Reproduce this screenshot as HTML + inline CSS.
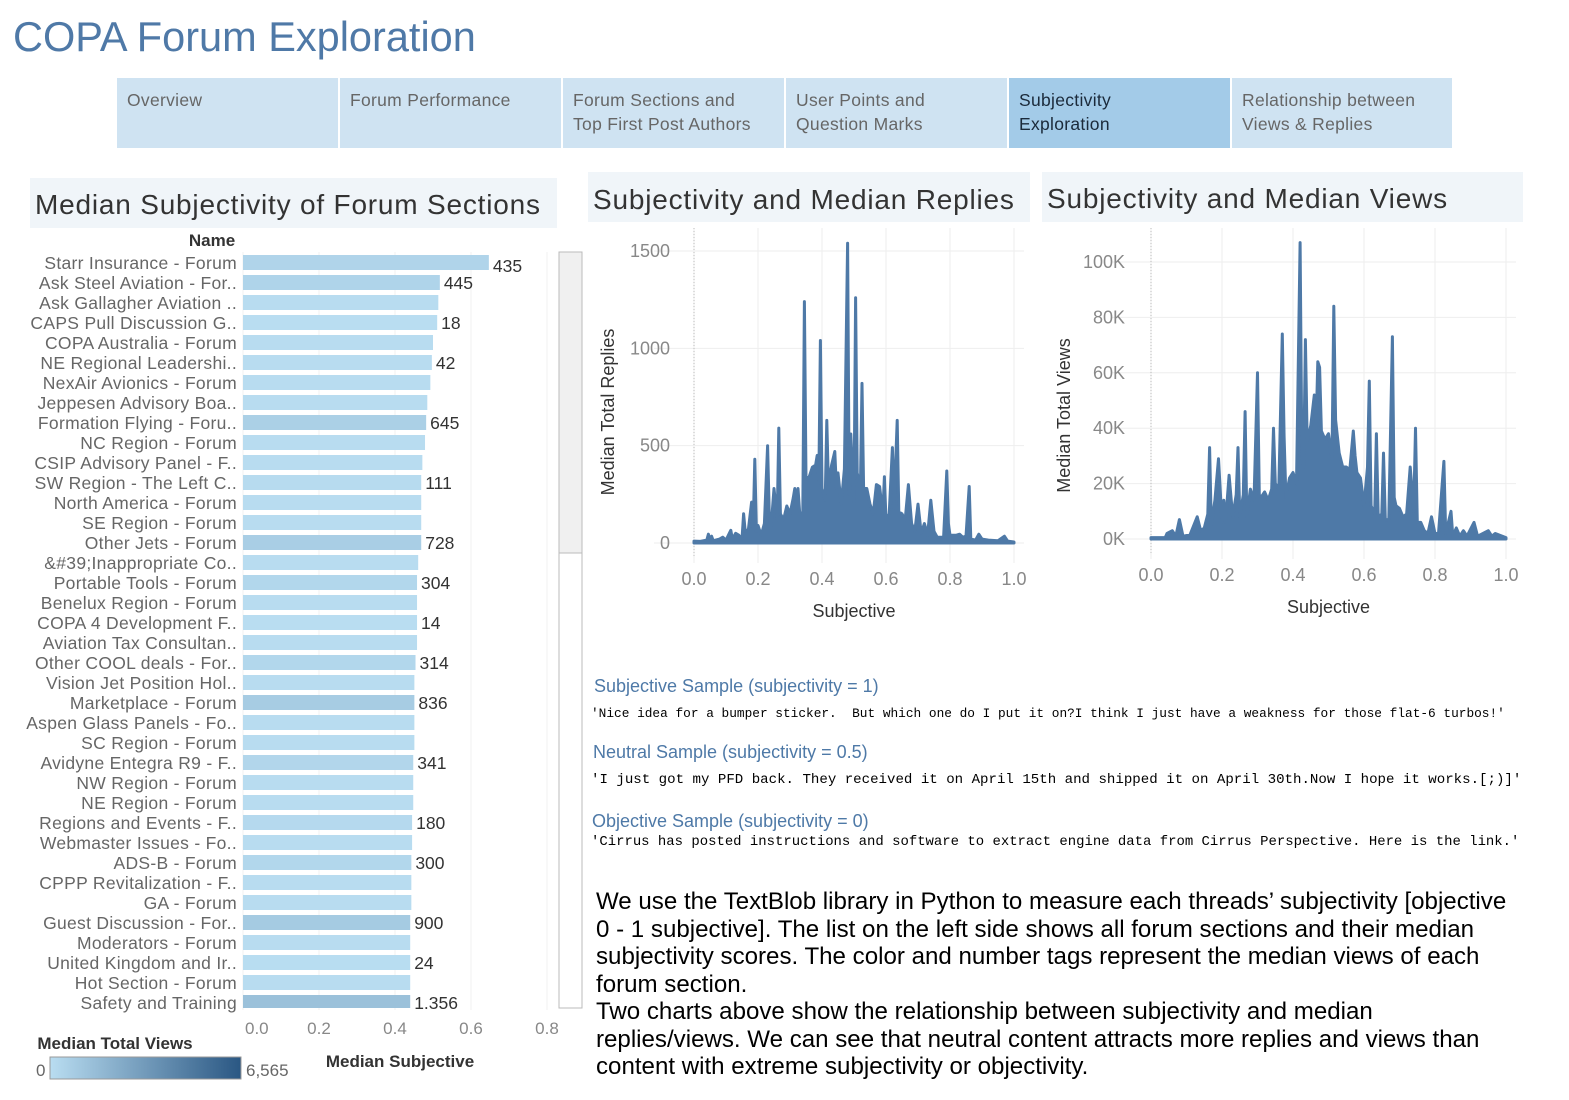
<!DOCTYPE html>
<html><head><meta charset="utf-8"><style>
body{margin:0;background:#fff;width:1569px;height:1100px;overflow:hidden;font-family:"Liberation Sans",sans-serif;position:relative}
.tab{position:absolute;top:78px;height:70px;width:221px;background:#cfe3f2;color:#666;font-size:17.5px;line-height:24px;padding:10px 10px;box-sizing:border-box;letter-spacing:0.3px}
.tab.active{background:#a3cbe8;color:#1b2a3a}
.hdr{position:absolute;background:#f0f5f9;color:#333;font-size:28px;box-sizing:border-box;padding-left:5px;letter-spacing:0.8px;white-space:nowrap}
.samp{position:absolute;color:#4e79a7;font-size:18px}
.mono{position:absolute;font-family:"Liberation Mono",monospace;font-size:13px;color:#000;white-space:pre}
.para{position:absolute;left:596px;top:888px;width:925px;font-size:24.1px;line-height:27.5px;color:#000}
</style></head><body>
<div style="position:absolute;left:13px;top:13px;font-size:41.5px;color:#4f79a7">COPA Forum Exploration</div>
<div class="tab" style="left:117px">Overview</div>
<div class="tab" style="left:340px">Forum Performance</div>
<div class="tab" style="left:563px">Forum Sections and<br>Top First Post Authors</div>
<div class="tab" style="left:786px">User Points and<br>Question Marks</div>
<div class="tab active" style="left:1009px">Subjectivity<br>Exploration</div>
<div class="tab" style="left:1232px;width:220px">Relationship between<br>Views &amp; Replies</div>

<div class="hdr" style="left:30px;top:178px;width:527px;height:50px;line-height:54px">Median Subjectivity of Forum Sections</div>
<div class="hdr" style="left:588px;top:172px;width:442px;height:50px;line-height:56px">Subjectivity and Median Replies</div>
<div class="hdr" style="left:1042px;top:172px;width:481px;height:50px;line-height:54px">Subjectivity and Median Views</div>

<div class="samp" style="left:594px;top:676px">Subjective Sample (subjectivity = 1)</div>
<div class="mono" style="left:591px;top:706px;font-size:12.8px">'Nice idea for a bumper sticker.  But which one do I put it on?I think I just have a weakness for those flat-6 turbos!'</div>
<div class="samp" style="left:593px;top:742px">Neutral Sample (subjectivity = 0.5)</div>
<div class="mono" style="left:591px;top:772px;font-size:14.1px">'I just got my PFD back. They received it on April 15th and shipped it on April 30th.Now I hope it works.[;)]'</div>
<div class="samp" style="left:592px;top:811px">Objective Sample (subjectivity = 0)</div>
<div class="mono" style="left:591px;top:834px;font-size:13.95px">'Cirrus has posted instructions and software to extract engine data from Cirrus Perspective. Here is the link.'</div>
<div class="para">We use the TextBlob library in Python to measure each threads’ subjectivity [objective 0 - 1 subjective]. The list on the left side shows all forum sections and their median subjectivity scores. The color and number tags represent the median views of each forum section.<br>Two charts above show the relationship between subjectivity and median replies/views. We can see that neutral content attracts more replies and views than content with extreme subjectivity or objectivity.</div>

<svg id="svg" width="1569" height="1100" style="position:absolute;left:0;top:0" xmlns="http://www.w3.org/2000/svg">
<defs><linearGradient id="lg" x1="0" x2="1"><stop offset="0" stop-color="#b9ddf1"/><stop offset="1" stop-color="#2a5783"/></linearGradient></defs>
<g id="bars"></g><g id="rep"></g><g id="vie"></g>
<rect x="559" y="252" width="23" height="756" fill="#fff" stroke="#bbb"/>
<rect x="559" y="252" width="23" height="301" fill="#f0f0f0" stroke="#bbb"/>
<text x="212" y="246" text-anchor="middle" font-size="17" fill="#333" font-weight="bold">Name</text>
<text x="115" y="1049" text-anchor="middle" font-size="17" fill="#333" font-weight="bold">Median Total Views</text>
<rect x="50" y="1057" width="191" height="22" fill="url(#lg)" stroke="#999"/>
<text x="36" y="1076" font-size="17" fill="#666">0</text>
<text x="246" y="1076" font-size="17" fill="#666">6,565</text>
<text x="400" y="1067" text-anchor="middle" font-size="17" fill="#333" font-weight="bold">Median Subjective</text>
</svg>
<script>
const names=["Starr Insurance - Forum","Ask Steel Aviation - For..","Ask Gallagher Aviation ..","CAPS Pull Discussion G..","COPA Australia - Forum","NE Regional Leadershi..","NexAir Avionics - Forum","Jeppesen Advisory Boa..","Formation Flying - Foru..","NC Region - Forum","CSIP Advisory Panel - F..","SW Region - The Left C..","North America - Forum","SE Region - Forum","Other Jets - Forum","&#39;Inappropriate Co..","Portable Tools - Forum","Benelux Region - Forum","COPA 4 Development F..","Aviation Tax Consultan..","Other COOL deals - For..","Vision Jet Position Hol..","Marketplace - Forum","Aspen Glass Panels - Fo..","SC Region - Forum","Avidyne Entegra R9 - F..","NW Region - Forum","NE Region - Forum","Regions and Events - F..","Webmaster Issues - Fo..","ADS-B - Forum","CPPP Revitalization - F..","GA - Forum","Guest Discussion - For..","Moderators - Forum","United Kingdom and Ir..","Hot Section - Forum","Safety and Training"];
const subj=[0.647,0.518,0.514,0.511,0.500,0.497,0.493,0.485,0.482,0.479,0.472,0.469,0.469,0.469,0.469,0.461,0.458,0.458,0.458,0.458,0.454,0.451,0.451,0.451,0.451,0.448,0.448,0.448,0.445,0.445,0.443,0.443,0.443,0.440,0.440,0.440,0.440,0.440];
const views=[435,445,60,18,50,42,60,30,645,50,30,111,60,60,728,40,304,60,14,60,314,40,836,60,60,341,60,60,180,40,300,40,60,900,40,24,60,1356];
const viewLabels=["435","445","","18","","42","","","645","","","111","","","728","","304","","14","","314","","836","","","341","","","180","","300","","","900","","24","","1.356"];
const barTicks=[0,0.2,0.4,0.6,0.8];
const repX=[0,0.02,0.04,0.045,0.05,0.055,0.06,0.08,0.09,0.1,0.115,0.12,0.13,0.14,0.15,0.155,0.16,0.17,0.18,0.185,0.19,0.195,0.2,0.21,0.22,0.23,0.235,0.24,0.25,0.26,0.265,0.27,0.28,0.29,0.3,0.31,0.315,0.32,0.325,0.33,0.34,0.345,0.35,0.36,0.37,0.38,0.385,0.39,0.395,0.4,0.41,0.415,0.42,0.43,0.44,0.445,0.45,0.46,0.47,0.48,0.485,0.49,0.5,0.505,0.51,0.52,0.525,0.53,0.54,0.55,0.56,0.57,0.58,0.59,0.595,0.6,0.61,0.62,0.625,0.635,0.64,0.65,0.66,0.67,0.68,0.69,0.7,0.71,0.72,0.73,0.74,0.75,0.76,0.78,0.79,0.795,0.8,0.82,0.83,0.84,0.85,0.86,0.865,0.88,0.89,0.9,0.92,0.95,0.97,0.98,1.0];
const repY=[10,8,15,45,10,35,12,20,30,15,65,20,50,40,20,150,60,70,210,80,430,60,90,40,100,500,160,60,280,120,590,150,120,190,150,230,280,200,280,160,150,1240,330,340,390,400,450,300,1040,280,220,630,300,400,470,280,360,200,380,1540,250,560,200,1260,360,280,820,280,280,200,150,300,290,150,340,120,150,490,180,630,160,150,120,300,100,60,200,50,100,40,220,60,30,30,370,100,40,40,45,30,35,290,20,15,45,20,15,12,35,10,5];
const repTicks=[0,500,1000,1500];
const vieX=[0,0.04,0.045,0.06,0.07,0.08,0.09,0.11,0.13,0.14,0.15,0.16,0.165,0.17,0.18,0.19,0.2,0.205,0.21,0.22,0.23,0.24,0.245,0.25,0.26,0.265,0.27,0.28,0.29,0.3,0.305,0.31,0.32,0.33,0.34,0.345,0.35,0.36,0.37,0.375,0.38,0.39,0.4,0.41,0.42,0.425,0.43,0.435,0.44,0.45,0.46,0.465,0.47,0.475,0.48,0.49,0.5,0.51,0.515,0.52,0.53,0.54,0.55,0.56,0.57,0.575,0.58,0.59,0.6,0.61,0.615,0.62,0.63,0.635,0.64,0.65,0.655,0.66,0.67,0.68,0.685,0.69,0.7,0.71,0.72,0.73,0.74,0.745,0.75,0.76,0.77,0.78,0.79,0.8,0.81,0.825,0.83,0.845,0.85,0.86,0.87,0.88,0.89,0.91,0.92,0.95,0.96,0.97,1.0];
const vieY=[0.5,0.5,2,3,1,7,1,1.5,8,3,4,9,33,5,14,29,6,14,6,23,8,16,33,8,16,46,8,18,14,60,16,15,17,14,18,40,20,18,74,37,15,22,24,20,107,28,26,72,35,41,52,40,64,62,39,36,38,29,84,43,31,26,26,25,39,30,24,22,12,26,57,12,9,38,8,9,31,7,7,73,15,12,11,8,9,26,10,40,6,6,3,2,8,2,2,28,2,10,1,4,1,3,1,6,1,3,1,2,0.5];
const vieTicks=[0,20,40,60,80,100];
const xTicks=[0,0.2,0.4,0.6,0.8,1.0];
const NS="http://www.w3.org/2000/svg";
function mk(p,t,a,txt){const e=document.createElementNS(NS,t);for(const k in a)e.setAttribute(k,a[k]);if(txt!==undefined)e.textContent=txt;p.appendChild(e);return e;}
function lerp(a,b,t){return Math.round(a+(b-a)*t);}
function col(v){const t=Math.min(1,v/6565);return `rgb(${lerp(185,42,t)},${lerp(221,87,t)},${lerp(241,131,t)})`;}
const bx=v=>243+v*380, by=i=>255+i*20;
const gb=document.getElementById('bars');
barTicks.forEach(t=>{
  const g=mk(gb,'line',{x1:bx(t),x2:bx(t),y1:252,y2:1010,stroke:'#f0f0f0'});
  
  
  const l=mk(gb,'text',{x:t===0?bx(t)+2:bx(t),y:1034,'text-anchor':t===0?'start':'middle','font-size':17,fill:'#888'},t.toFixed(1));
  
  
});
names.forEach((n,i)=>{
  const y=by(i);
  const r=mk(gb,'rect',{x:bx(0),y:y,width:bx(subj[i])-bx(0),height:Math.min(15,1008-y),fill:col(views[i])});
  
  
  const t=mk(gb,'text',{x:237,y:y+14,'text-anchor':'end','font-size':17.5,fill:'#666','letter-spacing':'0.3'},n);
  
  
  if(viewLabels[i]){
    const v=mk(gb,'text',{x:bx(subj[i])+4,y:y+(i===0?17:14),'font-size':17.5,fill:'#333'},viewLabels[i]);
    
    
  }
});
function spike(gid,X,Y,x0,x1,y0,ymax,ypx,ticks,fmt,axisLabel,tickX,labY,titleX,titleY,tag){
  const g=document.getElementById(gid);
  const sx=v=>x0+v*(x1-x0), sy=v=>y0-v/ymax*(y0-ypx);
  xTicks.forEach(t=>{
    const l=mk(g,'line',{x1:sx(t),x2:sx(t),y1:228,y2:y0+20,stroke:'#eee'});
    
    
    const tx=mk(g,'text',{x:sx(t),y:labY,'text-anchor':'middle','font-size':18,fill:'#888'},t.toFixed(1));
    
    
  });
  ticks.forEach(t=>{
    const l=mk(g,'line',{x1:x0-40,x2:x1+10,y1:sy(t),y2:sy(t),stroke:'#eee'});
    
    
    const tx=mk(g,'text',{x:tickX,y:sy(t)+6,'text-anchor':'end','font-size':18,fill:'#888'},fmt(t));
    
    
  });
  const zl=mk(g,'line',{x1:sx(0),x2:sx(0),y1:228,y2:y0+15,stroke:'#bbb','stroke-dasharray':'1,2'});
  
  
  let d='M'+sx(X[0])+','+y0;
  X.forEach((x,i)=>{d+=' L'+sx(x).toFixed(1)+','+sy(Y[i]).toFixed(1);});
  d+=' L'+sx(X[X.length-1])+','+y0+' Z';
  const p=mk(g,'path',{d:d,fill:'#4e79a7',stroke:'#4e79a7','stroke-width':3,'stroke-linejoin':'round'});
  
  
  const xt=mk(g,'text',{x:(x0+x1)/2,y:titleY,'text-anchor':'middle','font-size':18,fill:'#333'},'Subjective');
  
  
  const yt=mk(g,'text',{x:0,y:0,'text-anchor':'middle','font-size':18,fill:'#333',transform:`translate(${titleX},${(y0+ypx)/2+15}) rotate(-90)`},axisLabel);
  
  
}
spike('rep',repX,repY,694,1014,543,1500,251,repTicks,t=>String(t),'Median Total Replies',670,585,614,617,'replies');
spike('vie',vieX,vieY,1151,1506,539,100,262,vieTicks,t=>t+'K',"Median Total Views",1125,581,1070,613,'views');
</script>
</body></html>
